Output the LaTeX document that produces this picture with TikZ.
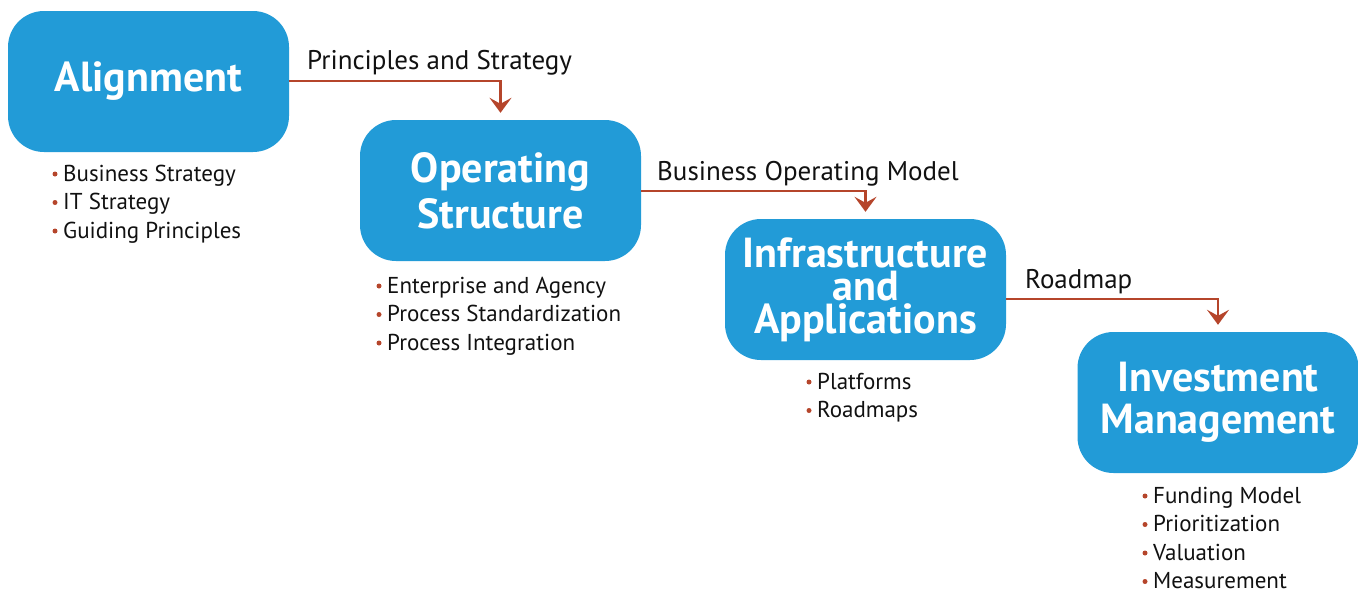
\documentclass[tikz,border=0pt]{standalone}
\usepackage{fontspec}
\setmainfont{PT Sans}
\usetikzlibrary{arrows.meta,calc}
\definecolor{boxblue}{HTML}{229BD7}
\definecolor{arrred}{HTML}{B5452B}
\definecolor{txt}{HTML}{111111}
\tikzset{
  stage/.style={fill=boxblue, rounded corners=36pt, minimum width=281pt, minimum height=141pt,
    inner sep=0pt, text=white, align=center, font=\bfseries\fontsize{42}{46}\selectfont},
  flow/.style={draw=arrred, line width=2.6pt, -{Stealth[length=15pt,width=22pt,inset=6pt]}, shorten >=7pt},
  flowlabel/.style={anchor=base west, inner sep=0pt, text=txt, font=\fontsize{27}{30}\selectfont},
  item/.style={anchor=base west, inner sep=0pt, text=txt, font=\fontsize{23}{26}\selectfont},
  dot/.style={fill=arrred}
}
\begin{document}
\begin{tikzpicture}[x=1pt,y=-1pt]
\useasboundingbox (0,0) rectangle (1358,592);
\node[stage] (align) at (148.5,81.5) {Alignment};
\node[stage] (oper) at (500.5,190.5) {Operating\\Structure};
\node[stage, font=\bfseries\fontsize{42}{33}\selectfont] (infra) at (865.5,289.5) {Infrastructure\\and\\Applications};
\node[stage, font=\bfseries\fontsize{42}{42}\selectfont] (invest) at (1218,402.5) {Investment\\Management};

\draw[flow] (align.east |- 0,81) -| (oper.north);
\draw[flow] (oper.east |- 0,191) -| (infra.north);
\draw[flow] (infra.east |- 0,299) -| (invest.north);

\node[flowlabel] (l1) at (307,69) {Principles and Strategy};
\node[flowlabel] (l2) at (657,180) {Business Operating Model};
\node[flowlabel] (l3) at (1025,288) {Roadmap};

\foreach \t [count=\i] in {Business Strategy, IT Strategy, Guiding Principles}{
  \node[item] (a\i) at (63,{181+28.5*(\i-1)}) {\t};
  \fill[dot] ($(a\i.base west)+(-8,-7)$) circle (2.5pt);
}
\foreach \t [count=\i] in {Enterprise and Agency, Process Standardization, Process Integration}{
  \node[item] (o\i) at (387,{293+28.5*(\i-1)}) {\t};
  \fill[dot] ($(o\i.base west)+(-8,-7)$) circle (2.5pt);
}
\foreach \t [count=\i] in {Platforms, Roadmaps}{
  \node[item] (p\i) at (817,{389+28.5*(\i-1)}) {\t};
  \fill[dot] ($(p\i.base west)+(-8,-7)$) circle (2.5pt);
}
\foreach \t [count=\i] in {Funding Model, Prioritization, Valuation, Measurement}{
  \node[item] (m\i) at (1153,{503+28.5*(\i-1)}) {\t};
  \fill[dot] ($(m\i.base west)+(-8,-7)$) circle (2.5pt);
}
\end{tikzpicture}
\end{document}
